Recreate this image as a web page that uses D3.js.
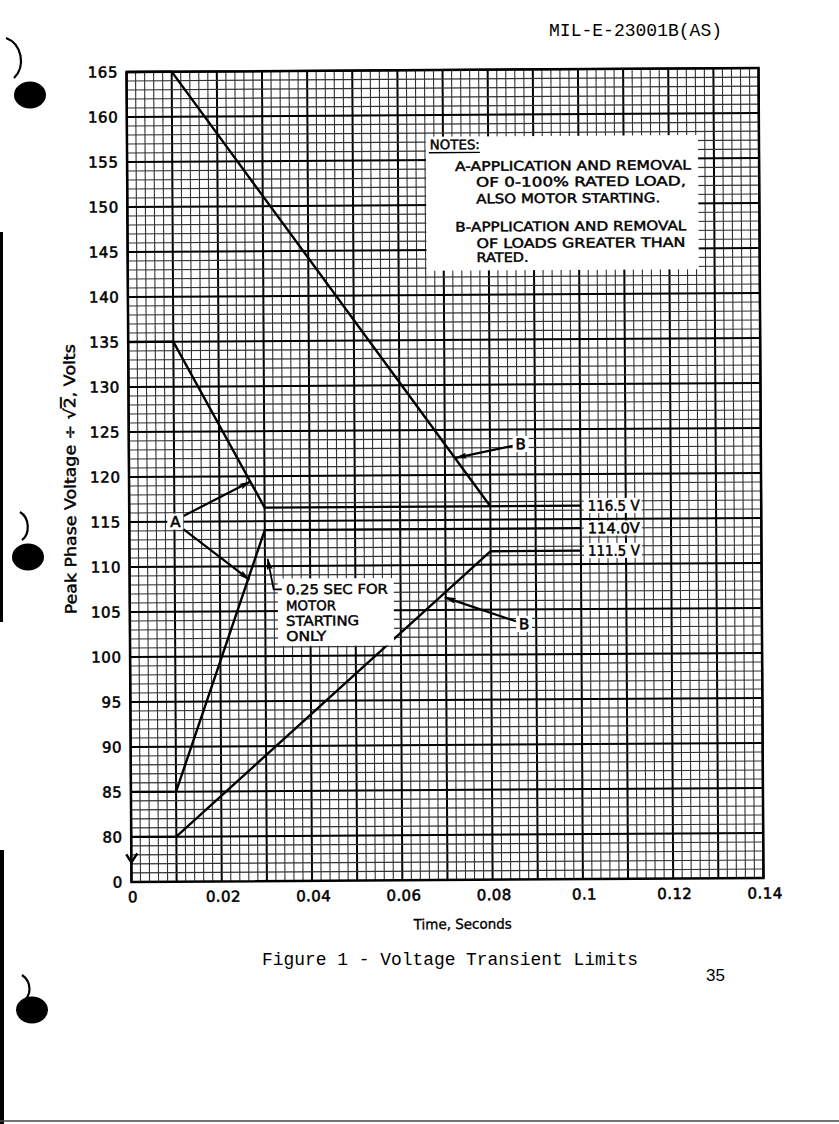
<!DOCTYPE html>
<html><head><meta charset="utf-8">
<script src="https://cdn.jsdelivr.net/npm/d3@7"></script>
<style>html,body{margin:0;padding:0;background:#fff;overflow:hidden}</style>
</head><body>
<svg id="c" width="839" height="1124"></svg>
<script>
// ---------- data ----------
const xTicks = [0, 0.02, 0.04, 0.06, 0.08, 0.1, 0.12, 0.14];
const xTickLabels = ["0", "0.02", "0.04", "0.06", "0.08", "0.1", "0.12", "0.14"];
const yTicks = [0, 80, 85, 90, 95, 100, 105, 110, 115, 120, 125, 130, 135, 140, 145, 150, 155, 160, 165];
const yTickLabels = ["0", "80", "85", "90", "95", "100", "105", "110", "115", "120", "125", "130", "135", "140", "145", "150", "155", "160", "165"];
// limit curves: [time (s), volts]
const curveAUpper = [[0, 135], [0.01, 135], [0.03, 116.5], [0.1, 116.5]];
const curveBUpper = [[0, 165], [0.01, 165], [0.08, 116.5]];
const curveALower = [[0, 85], [0.01, 85], [0.03, 114], [0.1, 114]];
const curveBLower = [[0, 80], [0.01, 80], [0.08, 111.5], [0.1, 111.5]];
const limitValues = [116.5, 114.0, 111.5];
const limitLabels = ["116.5 V", "114.0V", "111.5 V"];
const noteLines = ["A-APPLICATION AND REMOVAL", "OF 0-100% RATED LOAD,", "ALSO MOTOR STARTING.",
                   "B-APPLICATION AND REMOVAL", "OF LOADS GREATER THAN", "RATED."];
const motorLines = ["0.25 SEC FOR", "MOTOR", "STARTING", "ONLY"];
// annotation arrows: from [t,v] to tip [t,v]
const arrowsA = [[[0.0119, 115.6], [0.0269, 119.4]], [[0.0119, 114.2], [0.0265, 108.5]]];
const arrowB1 = [[0.0851, 123.2], [0.0724, 121.9]];
const arrowB2 = [[0.0855, 103.7], [0.0698, 106.4]];
const motorLeader = [[0.0337, 107.4], [0.0319, 107.4], [0.0306, 110.8]];

// ---------- layout ----------
const svg = d3.select("#c");
const L = 129, R = 761;
const x = d3.scaleLinear().domain([0, 0.14]).range([L, R]);
const y = d3.scaleLinear().domain([0, 80, 165]).range([880, 835, 70]);
const labelFont = "'DejaVu Sans', sans-serif";

// page decorations (scan artefacts: binder holes, edge)
const deco = svg.append("g");
[[30, 95], [28, 557], [32, 1010]].forEach(([cx, cy]) => {
  deco.append("ellipse").attr("cx", cx).attr("cy", cy).attr("rx", 16).attr("ry", 13.5).attr("fill", "#000");
});
[["M6,38 C22,44 26,66 14,78"], ["M20,512 C30,518 30,534 22,540"], ["M22,975 C32,982 32,996 22,1002"]].forEach(([d]) => {
  deco.append("path").attr("d", d).attr("fill", "none").attr("stroke", "#000").attr("stroke-width", 2.2);
});
deco.append("rect").attr("x", 0).attr("y", 232).attr("width", 3).attr("height", 390).attr("fill", "#000");
deco.append("rect").attr("x", 0).attr("y", 850).attr("width", 4).attr("height", 274).attr("fill", "#000");
deco.append("line").attr("x1", 0).attr("x2", 839).attr("y1", 1121).attr("y2", 1121).attr("stroke", "#444").attr("stroke-width", 1.5);

// header / caption
svg.append("text").attr("x", 549).attr("y", 36).attr("font-family", "'Liberation Mono', monospace")
  .attr("font-size", 18).attr("textLength", 173).attr("lengthAdjust", "spacingAndGlyphs").text("MIL-E-23001B(AS)");
svg.append("text").attr("x", 262).attr("y", 965).attr("font-family", "'Liberation Mono', monospace")
  .attr("font-size", 18).attr("textLength", 376).attr("lengthAdjust", "spacingAndGlyphs").text("Figure 1 - Voltage Transient Limits");
svg.append("text").attr("x", 706).attr("y", 981).attr("font-family", "'Liberation Sans', sans-serif")
  .attr("font-size", 17).text("35");

// ---------- chart (slightly rotated like the scan) ----------
const g = svg.append("g").attr("transform", "rotate(-0.35, 445, 475)");

// grid
const vLines = d3.range(0, 71).map(i => i * 0.002);
const hLines = d3.range(80, 166).concat([16, 32, 48, 64]);
const grid = g.append("g");
grid.selectAll("line.v").data(vLines).join("line")
  .attr("x1", d => x(d)).attr("x2", d => x(d)).attr("y1", y(0)).attr("y2", y(165))
  .attr("stroke", (d, i) => i % 5 === 0 ? "#000" : "#333")
  .attr("stroke-width", (d, i) => i % 5 === 0 ? 2 : 1.1);
grid.selectAll("line.h").data(hLines).join("line")
  .attr("x1", x(0)).attr("x2", x(0.14)).attr("y1", d => y(d)).attr("y2", d => y(d))
  .attr("stroke", d => (d >= 80 && d % 5 === 0) ? "#000" : "#333")
  .attr("stroke-width", d => (d >= 80 && d % 5 === 0) ? 2 : 1.1);
g.append("rect").attr("x", x(0)).attr("y", y(165)).attr("width", x(0.14) - x(0)).attr("height", y(0) - y(165))
  .attr("fill", "none").attr("stroke", "#000").attr("stroke-width", 2.5);
// axis-break mark
g.append("path").attr("d", `M${x(0) - 5},${y(40) - 5} L${x(0)},${y(40) + 3} L${x(0) + 6},${y(40) - 6}`)
  .attr("fill", "none").attr("stroke", "#000").attr("stroke-width", 2.5);

// tick labels
g.selectAll("text.yt").data(yTicks).join("text")
  .attr("x", L - 8.5).attr("y", d => y(d)).attr("dy", "0.36em").attr("text-anchor", "end")
  .attr("font-family", labelFont).attr("font-size", 15).attr("letter-spacing", 0.6)
  .attr("stroke", "#000").attr("stroke-width", 0.55)
  .text((d, i) => yTickLabels[i]);
g.selectAll("text.xt").data(xTicks).join("text")
  .attr("x", d => x(d) + 1.5).attr("y", 895).attr("dy", "0.36em").attr("text-anchor", "middle")
  .attr("font-family", labelFont).attr("font-size", 15).attr("letter-spacing", 0.4)
  .attr("stroke", "#000").attr("stroke-width", 0.55)
  .text((d, i) => xTickLabels[i]);

// axis titles
g.append("text").attr("x", 411).attr("y", 924).attr("dy", "0.36em")
  .attr("font-family", labelFont).attr("font-size", 14).attr("textLength", 98).attr("lengthAdjust", "spacingAndGlyphs")
  .attr("stroke", "#000").attr("stroke-width", 0.35)
  .text("Time, Seconds");
const yl = g.append("text").attr("transform", "translate(70,612) rotate(-90)").attr("dy", "0.36em")
  .attr("font-family", labelFont).attr("font-size", 15.5).attr("textLength", 270).attr("lengthAdjust", "spacingAndGlyphs")
  .attr("stroke", "#000").attr("stroke-width", 0.45);
yl.append("tspan").text("Peak Phase Voltage ÷ √");
yl.append("tspan").attr("text-decoration", "overline").text("2");
yl.append("tspan").text(", Volts");

// notes box
const nbx = x(0.0662), nby = y(157.6), nbw = x(0.1265) - x(0.0662), nbh = y(142.7) - y(157.6);
g.append("rect").attr("x", nbx).attr("y", nby).attr("width", nbw).attr("height", nbh).attr("fill", "#fff");
const notesG = g.append("g").attr("font-family", labelFont).attr("font-size", 13)
  .attr("stroke", "#000").attr("stroke-width", 0.45);
notesG.append("text").attr("x", nbx + 4).attr("y", nby + 8).attr("dy", "0.36em")
  .attr("textLength", 50).attr("lengthAdjust", "spacingAndGlyphs").text("NOTES:");
notesG.append("line").attr("x1", nbx + 3).attr("x2", nbx + 54).attr("y1", nby + 16).attr("y2", nby + 16)
  .attr("stroke", "#000").attr("stroke-width", 1.4);
const noteRowY = [29.7, 45.7, 62.3, 90.3, 107, 121];
const noteRowX = [29, 50, 50, 29, 50, 50];
const noteRowW = [236, 210, 184, 231, 209, 52];
notesG.selectAll("text.n").data(noteLines).join("text")
  .attr("x", (d, i) => nbx + noteRowX[i]).attr("y", (d, i) => nby + noteRowY[i]).attr("dy", "0.36em")
  .attr("textLength", (d, i) => noteRowW[i]).attr("lengthAdjust", "spacingAndGlyphs")
  .text(d => d);

// limit curves
const line = d3.line().x(d => x(d[0])).y(d => y(d[1]));
[curveAUpper, curveBUpper, curveALower, curveBLower].forEach(c => {
  g.append("path").datum(c).attr("d", line).attr("fill", "none").attr("stroke", "#000")
    .attr("stroke-width", 2.4).attr("stroke-linejoin", "miter");
});

// limit labels
limitValues.forEach((v, i) => {
  g.append("rect").attr("x", x(0.1) + 3).attr("y", y(v) - 7.5).attr("width", 58).attr("height", 15).attr("fill", "#fff");
  g.append("text").attr("x", x(0.1) + 7).attr("y", y(v)).attr("dy", "0.36em")
    .attr("font-family", labelFont).attr("font-size", 14.5).attr("textLength", 52).attr("lengthAdjust", "spacingAndGlyphs")
    .attr("stroke", "#000").attr("stroke-width", 0.5)
    .text(limitLabels[i]);
});

// arrow marker
svg.append("defs").append("marker").attr("id", "ah").attr("viewBox", "0 0 12 6")
  .attr("refX", 11).attr("refY", 3).attr("markerWidth", 12).attr("markerHeight", 6)
  .attr("markerUnits", "userSpaceOnUse").attr("orient", "auto")
  .append("path").attr("d", "M0,0 L12,3 L0,6 L2,3 z").attr("fill", "#000");

function arrow(a) {
  g.append("line").attr("x1", x(a[0][0])).attr("y1", y(a[0][1])).attr("x2", x(a[1][0])).attr("y2", y(a[1][1]))
    .attr("stroke", "#000").attr("stroke-width", 2.2).attr("marker-end", "url(#ah)");
}
arrowsA.forEach(arrow);
arrow(arrowB1);
arrow(arrowB2);

function boxedLabel(t, v, s) {
  g.append("rect").attr("x", x(t) - 8).attr("y", y(v) - 8).attr("width", 16).attr("height", 16).attr("fill", "#fff");
  g.append("text").attr("x", x(t)).attr("y", y(v)).attr("dy", "0.36em").attr("text-anchor", "middle")
    .attr("font-family", labelFont).attr("font-size", 15).attr("stroke", "#000").attr("stroke-width", 0.6).text(s);
}
boxedLabel(0.0102, 115, "A");
boxedLabel(0.0868, 123.4, "B");
boxedLabel(0.0873, 103.4, "B");

// motor starting note
g.append("rect").attr("x", x(0.0328)).attr("y", y(108.6)).attr("width", x(0.0585) - x(0.0328))
  .attr("height", y(101.1) - y(108.6)).attr("fill", "#fff");
g.append("path").datum(motorLeader).attr("d", line).attr("fill", "none").attr("stroke", "#000")
  .attr("stroke-width", 1.8).attr("marker-end", "url(#ah)");
const motorRowV = [107.4, 105.6, 103.9, 102.2];
const motorRowW = [102, 50, 73, 40];
g.selectAll("text.m").data(motorLines).join("text")
  .attr("x", x(0.0346)).attr("y", (d, i) => y(motorRowV[i])).attr("dy", "0.36em")
  .attr("font-family", labelFont).attr("font-size", 13.5).attr("textLength", (d, i) => motorRowW[i])
  .attr("lengthAdjust", "spacingAndGlyphs").attr("stroke", "#000").attr("stroke-width", 0.45)
  .text(d => d);
</script>
</body></html>
